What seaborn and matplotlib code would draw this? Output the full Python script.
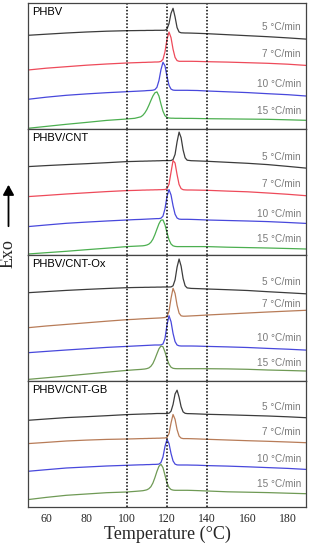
import matplotlib
matplotlib.use("Agg")
import matplotlib.pyplot as plt
import seaborn as sns
from matplotlib.patches import FancyArrowPatch

# temperature grid (°C) shared by all curves
temp = [51, 60, 70, 80, 90, 100, 104,
        107, 108, 109, 110, 111, 112, 113, 114, 115, 116, 117, 118,
        119, 120, 121, 122, 123, 124, 125, 126, 127, 128, 129, 130,
        132, 135, 140, 150, 160, 170, 180, 189]

# heat flow (a.u.), exo up
phbv_5 = [93.7, 94.8, 96.0, 97.0, 97.8, 98.3, 98.4,
          98.5, 98.5, 98.5, 98.6, 98.6, 98.6, 98.6, 98.7, 98.7, 98.7, 98.7, 98.7,
          98.8, 100.0, 105.4, 115.7, 120.7, 112.1, 101.4, 97.0, 96.2, 96.1, 96.0, 96.0,
          95.9, 95.7, 95.3, 94.3, 93.3, 92.3, 91.1, 89.9]
phbv_7 = [59.0, 60.8, 62.3, 63.8, 65.0, 66.0, 66.3,
          66.5, 66.6, 66.6, 66.7, 66.8, 66.8, 66.9, 67.0, 67.0, 67.1, 67.6, 69.7,
          77.2, 89.8, 97.0, 91.3, 79.8, 71.6, 68.4, 67.7, 67.7, 67.7, 67.7, 67.7,
          67.7, 67.6, 67.3, 66.9, 66.3, 65.7, 64.8, 63.6]
phbv_10 = [29.7, 31.8, 33.7, 35.1, 36.3, 37.3, 37.7,
           38.0, 38.1, 38.2, 38.4, 38.5, 38.6, 38.8, 39.4, 41.7, 48.4, 59.3, 66.7,
           63.2, 52.5, 43.7, 39.9, 38.9, 38.7, 38.7, 38.7, 38.7, 38.7, 38.7, 38.7,
           38.6, 38.5, 38.0, 37.2, 36.4, 35.3, 34.3, 33.0]
phbv_15 = [0.7, 2.6, 4.7, 6.6, 8.6, 10.0, 10.7,
           12.2, 13.7, 16.1, 19.4, 23.7, 28.5, 33.0, 36.2, 37.1, 33.0, 25.0, 17.8,
           13.3, 11.5, 11.0, 10.8, 10.8, 10.7, 10.7, 10.7, 10.7, 10.6, 10.6, 10.6,
           10.6, 10.5, 10.3, 10.1, 9.9, 9.7, 9.2, 8.7]

cnt_5 = [88.4, 89.4, 90.4, 91.3, 92.3, 93.4, 93.6,
         93.8, 93.8, 93.9, 93.9, 94.0, 94.0, 94.1, 94.1, 94.2, 94.2, 94.3, 94.4,
         94.4, 94.4, 94.4, 94.5, 95.4, 100.6, 113.2, 122.9, 117.3, 105.0, 97.2, 94.8,
         94.3, 94.1, 93.7, 92.7, 91.7, 90.4, 88.6, 86.9]
cnt_7 = [58.4, 59.6, 61.0, 62.2, 63.4, 64.4, 64.6,
         64.8, 64.9, 64.9, 65.0, 65.0, 65.1, 65.1, 65.2, 65.2, 65.3, 65.3, 65.4,
         65.5, 66.3, 70.8, 82.8, 94.5, 92.0, 80.4, 70.5, 66.4, 65.3, 65.1, 65.0,
         65.0, 64.9, 64.7, 63.9, 63.2, 62.0, 60.7, 59.3]
cnt_10 = [28.4, 30.0, 31.7, 32.9, 34.0, 35.0, 35.4,
          35.6, 35.7, 35.8, 35.9, 36.0, 36.1, 36.2, 36.3, 36.4, 36.4, 36.8, 38.9,
          46.2, 58.6, 65.4, 60.0, 49.3, 40.8, 37.0, 35.9, 35.7, 35.7, 35.7, 35.7,
          35.6, 35.4, 35.0, 34.5, 34.0, 33.4, 32.5, 31.6]
cnt_15 = [1.0, 2.3, 3.7, 5.3, 6.8, 8.4, 8.8,
          9.1, 9.2, 9.5, 10.0, 10.9, 12.7, 15.8, 20.4, 25.9, 31.2, 34.8, 35.1,
          30.2, 22.3, 15.3, 11.0, 9.2, 8.6, 8.4, 8.4, 8.4, 8.4, 8.4, 8.4,
          8.4, 8.4, 8.4, 7.8, 7.4, 7.0, 6.5, 6.0]

ox_5 = [88.3, 89.4, 90.6, 91.6, 92.5, 93.3, 93.5,
        93.6, 93.6, 93.7, 93.7, 93.7, 93.8, 93.8, 93.8, 93.9, 93.9, 93.9, 94.0,
        94.0, 94.0, 94.0, 94.1, 95.2, 101.1, 113.9, 122.0, 114.9, 102.5, 95.2, 93.1,
        92.6, 92.4, 92.0, 91.3, 90.5, 89.3, 88.2, 87.2]
ox_7 = [53.3, 55.0, 56.6, 58.2, 59.8, 61.3, 61.7,
        62.1, 62.2, 62.3, 62.4, 62.5, 62.6, 62.7, 62.8, 62.9, 63.0, 63.1, 63.3,
        63.5, 64.5, 69.8, 82.7, 92.7, 87.6, 75.8, 67.9, 65.2, 64.8, 64.8, 64.9,
        65.1, 65.4, 66.0, 67.0, 68.0, 69.0, 69.9, 70.7]
ox_10 = [28.3, 29.6, 31.0, 32.3, 33.6, 34.6, 35.0,
         35.3, 35.4, 35.5, 35.6, 35.7, 35.8, 35.9, 36.0, 36.0, 36.0, 36.1, 37.0,
         42.4, 56.1, 65.3, 59.3, 47.6, 39.4, 36.0, 35.2, 35.0, 35.0, 35.0, 35.0,
         35.0, 34.9, 34.6, 34.1, 33.5, 32.6, 31.8, 30.9]
ox_15 = [1.6, 3.2, 5.0, 6.9, 8.8, 10.6, 11.2,
         11.6, 11.8, 12.0, 12.4, 13.1, 14.7, 17.5, 22.0, 27.2, 32.2, 35.0, 34.3,
         29.0, 22.2, 16.8, 13.8, 12.7, 12.4, 12.3, 12.3, 12.3, 12.3, 12.3, 12.3,
         12.3, 12.3, 12.3, 12.1, 11.7, 11.0, 10.5, 10.0]

gb_5 = [86.7, 88.0, 89.4, 90.3, 91.3, 92.4, 92.7,
        92.9, 93.0, 93.0, 93.1, 93.2, 93.2, 93.3, 93.4, 93.5, 93.5, 93.5, 93.5,
        93.5, 93.5, 93.8, 95.8, 102.5, 113.0, 116.8, 109.8, 100.3, 95.1, 93.7, 93.4,
        93.3, 93.1, 92.7, 92.2, 91.6, 91.0, 90.2, 89.3]
gb_7 = [63.4, 64.6, 66.0, 66.9, 67.6, 68.0, 68.2,
        68.4, 68.4, 68.5, 68.5, 68.6, 68.6, 68.7, 68.7, 68.8, 68.8, 68.9, 69.0,
        69.0, 69.6, 73.4, 84.0, 92.5, 87.7, 77.4, 70.9, 68.9, 68.4, 68.4, 68.4,
        68.3, 68.1, 67.7, 67.0, 66.3, 65.7, 65.0, 64.3]
gb_10 = [35.7, 37.3, 39.0, 40.0, 41.0, 41.7, 42.0,
         42.2, 42.2, 42.3, 42.4, 42.4, 42.5, 42.6, 42.6, 42.7, 42.9, 44.5, 50.1,
         60.6, 67.6, 63.4, 53.5, 46.1, 42.9, 42.1, 42.0, 42.0, 42.0, 42.0, 42.0,
         41.9, 41.8, 41.4, 40.9, 40.2, 39.4, 38.6, 37.6]
gb_15 = [7.4, 9.6, 11.7, 13.0, 14.3, 15.0, 15.6,
         16.1, 16.3, 16.7, 17.2, 18.3, 20.3, 24.0, 29.4, 35.6, 40.7, 42.7, 39.4,
         31.7, 24.2, 19.5, 17.5, 16.9, 16.7, 16.7, 16.7, 16.7, 16.7, 16.7, 16.7,
         16.6, 16.4, 16.0, 15.2, 14.8, 14.4, 13.8, 13.3]

samples = ["PHBV", "PHBV/CNT", "PHBV/CNT-Ox", "PHBV/CNT-GB"]
rates = ["5 °C/min", "7 °C/min", "10 °C/min", "15 °C/min"]
curves = [[phbv_5, phbv_7, phbv_10, phbv_15],
          [cnt_5, cnt_7, cnt_10, cnt_15],
          [ox_5, ox_7, ox_10, ox_15],
          [gb_5, gb_7, gb_10, gb_15]]

# label heights inside each panel (same units as the curves)
label_y = [[102, 74.7, 44.7, 18],
           [97.7, 71, 41, 16],
           [99.3, 76.6, 43.3, 18.3],
           [100, 75, 47.7, 23.4]]

cols_a = ["#3c3c3c", "#ee4a5a", "#4848dc", "#4caf50"]
cols_b = ["#3c3c3c", "#b87c58", "#4848dc", "#6f9a55"]

sns.set_style("white")
fig, axes = plt.subplots(4, 1, figsize=(3.09, 5.5), dpi=100, sharex=True,
                         gridspec_kw=dict(hspace=0))
fig.subplots_adjust(left=28/309, right=306/309, top=1-3/550, bottom=1-507/550)

for i, ax in enumerate(axes):
    cols = cols_a if i < 2 else cols_b
    for j in range(4):
        sns.lineplot(x=temp, y=curves[i][j], ax=ax, color=cols[j], lw=0.9)
        ax.text(186.5, label_y[i][j], rates[j], ha="right", va="center",
                color="#7a7a7a", fontsize=7.2, family="Liberation Sans")
    for t in [100, 120, 140]:
        ax.axvline(t, color="black", ls=(0, (1, 1.2)), lw=1.1)
    ax.text(0.014, 0.93, samples[i], transform=ax.transAxes, ha="left", va="center",
            fontsize=8, family="Liberation Sans", color="black")
    ax.set_xlim(51, 189)
    ax.set_ylim(0, 126)
    ax.set_yticks([])
    ax.set_ylabel("")
    for s in ax.spines.values():
        s.set_color("#444444")
        s.set_linewidth(0.9)

ax = axes[-1]
ax.set_xticks([60, 80, 100, 120, 140, 160, 180])
ax.tick_params(axis="x", length=0, pad=4, labelsize=8.5)
for lb in ax.get_xticklabels():
    lb.set_family("Liberation Serif")
fig.text((28 + 306) / 2 / 309, 1 - 534 / 550, "Temperature (°C)", ha="center", va="center",
         fontsize=13, family="Liberation Serif")

fig.text(8.5 / 309, 1 - 254 / 550, "Exo", rotation=90, ha="center", va="center",
         fontsize=13, family="Liberation Serif")
arrow = FancyArrowPatch((8.5 / 309, 1 - 229 / 550), (8.5 / 309, 1 - 182 / 550),
                        transform=fig.transFigure, arrowstyle="-|>,head_length=4,head_width=2.2",
                        color="black", lw=1.3, mutation_scale=1.5)
fig.add_artist(arrow)

fig.savefig("out.png", dpi=100)
